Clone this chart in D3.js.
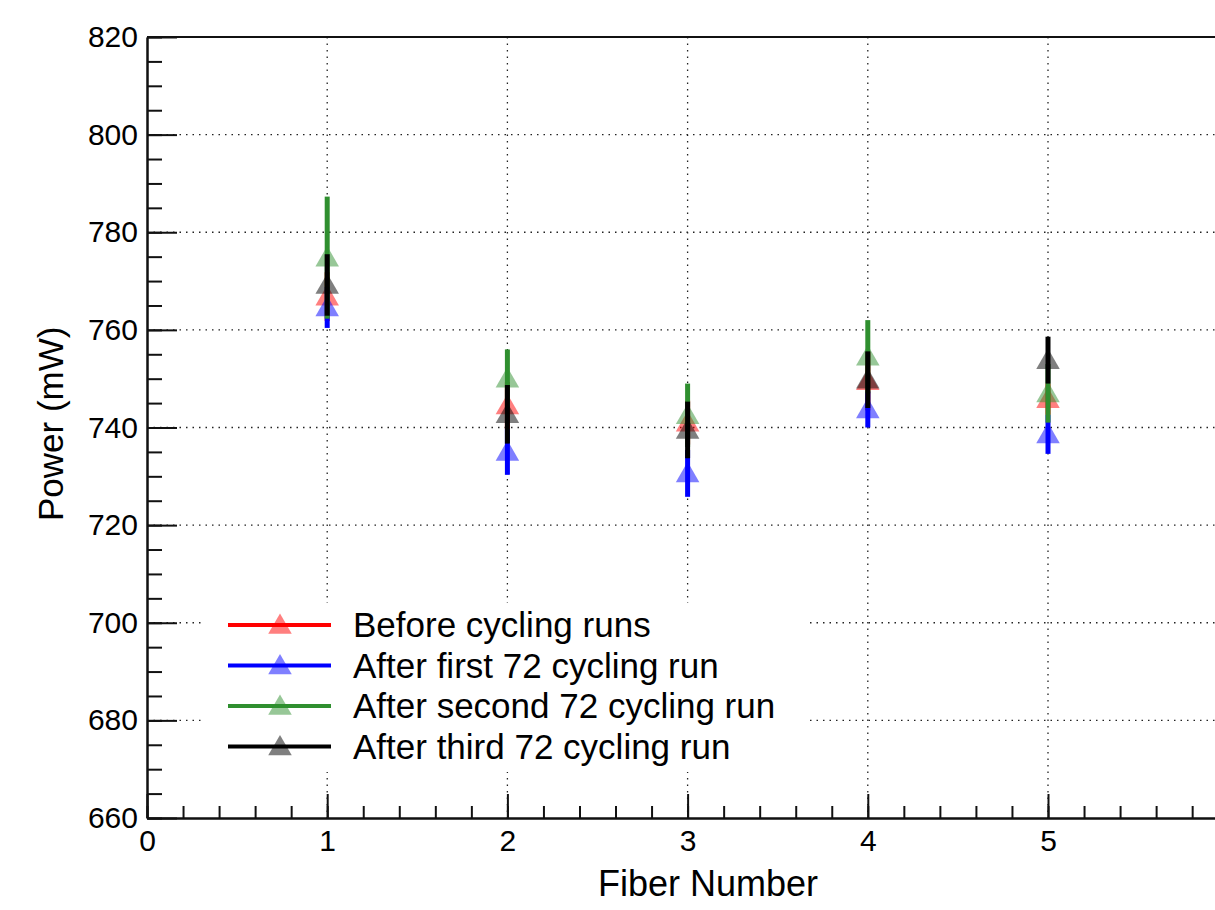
<!DOCTYPE html>
<html>
<head>
<meta charset="utf-8">
<script src="https://cdn.jsdelivr.net/npm/d3@7"></script>
<style>
  body { margin: 0; background: white; }
  text { font-family: "Liberation Sans", Arial, Helvetica, sans-serif; fill: black; }
</style>
</head>
<body>
<svg id="chart"></svg>
<script>
// power of each fiber, four measurement runs
var fibers = [1, 2, 3, 4, 5];

var before    = [766.8, 744.5, 741.0, 749.5, 745.8];
var beforeErr = [5.0, 4.8, 4.5, 6.0, 3.2];
var first     = [764.6, 735.0, 730.6, 743.7, 738.6];
var firstErr  = [4.2, 4.7, 4.8, 3.7, 4.0];
var second    = [774.8, 750.0, 742.5, 754.5, 747.0];
var secondErr = [12.5, 6.0, 6.5, 7.5, 6.0];
var third     = [769.2, 742.7, 739.5, 749.8, 753.8];
var thirdErr  = [6.3, 6.0, 5.8, 5.8, 4.8];

var seriesNames = ["Before cycling runs", "After first 72 cycling run",
                   "After second 72 cycling run", "After third 72 cycling run"];
var lineColors  = ["#ff0000", "#0000ff", "#2f8f2f", "#000000"];
var xTicks = [0, 1, 2, 3, 4, 5];   // 6 falls just past the right edge
var yTicks = [660, 680, 700, 720, 740, 760, 780, 800, 820];

var width = 1215, height = 910;
var padL = 147, padT = 37, padB = 818;

var svg = d3.select("#chart")
    .attr("width", width)
    .attr("height", height);

// scaling (x axis runs past the right edge of the picture)
var x = d3.scaleLinear().domain([0, 6]).range([padL, padL + 6 * 180.2]);
var y = d3.scaleLinear().domain([660, 820]).range([padB, padT]);

// dotted grid at the major ticks
var grid = svg.append("g")
    .attr("stroke", "#222")
    .attr("stroke-width", 1.3)
    .attr("stroke-dasharray", "1.5,5");
grid.selectAll(".gx")
    .data(xTicks.slice(1))
  .enter().append("line")
    .attr("x1", x).attr("x2", x)
    .attr("y1", padT).attr("y2", padB);
grid.selectAll(".gy")
    .data(yTicks.slice(1))
  .enter().append("line")
    .attr("x1", padL).attr("x2", width)
    .attr("y1", y).attr("y2", y);

// axes, ticks pointing into the frame
var minorY = d3.range(660, 821, 5);
var minorX = d3.range(0, 6.01, 0.2);

svg.append("g")
    .attr("transform", "translate(" + padL + ",0)")
    .call(d3.axisLeft(y).tickValues(minorY).tickSize(-15).tickSizeOuter(0).tickFormat(""));
svg.append("g")
    .attr("class", "yaxis")
    .attr("transform", "translate(" + padL + ",0)")
    .call(d3.axisLeft(y).tickValues(yTicks).tickSize(-30).tickSizeOuter(0).tickPadding(9));

svg.append("g")
    .attr("transform", "translate(0," + padB + ")")
    .call(d3.axisBottom(x).tickValues(minorX).tickSize(-12).tickSizeOuter(0).tickFormat(""));
svg.append("g")
    .attr("class", "xaxis")
    .attr("transform", "translate(0," + padB + ")")
    .call(d3.axisBottom(x).tickValues(xTicks).tickSize(-24).tickSizeOuter(0)
          .tickPadding(12).tickFormat(d3.format("d")));

svg.selectAll(".domain, .tick line")
    .attr("stroke", "#111")
    .attr("stroke-width", 2);
svg.selectAll(".yaxis text, .xaxis text")
    .style("font-size", "30px");

// top of the frame
svg.append("line")
    .attr("x1", padL).attr("x2", width)
    .attr("y1", padT).attr("y2", padT)
    .attr("stroke", "#111").attr("stroke-width", 2);

// triangle marker
var tri = d3.symbol().type(d3.symbolTriangle).size(240);

var series = [
  { vals: before, errs: beforeErr },
  { vals: first,  errs: firstErr },
  { vals: second, errs: secondErr },
  { vals: third,  errs: thirdErr }
];

// each series: error bars, then translucent markers on top
series.forEach(function(s, k) {
  var g = svg.append("g");
  g.selectAll("line")
      .data(fibers)
    .enter().append("line")
      .attr("x1", function(d) { return x(d); })
      .attr("x2", function(d) { return x(d); })
      .attr("y1", function(d, i) { return y(s.vals[i] + s.errs[i]); })
      .attr("y2", function(d, i) { return y(s.vals[i] - s.errs[i]); })
      .attr("stroke", lineColors[k])
      .attr("stroke-width", 5);
  g.selectAll("path")
      .data(fibers)
    .enter().append("path")
      .attr("d", tri)
      .attr("transform", function(d, i) {
          return "translate(" + x(d) + "," + (y(s.vals[i]) + 2) + ")"; })
      .attr("fill", lineColors[k])
      .attr("fill-opacity", 0.5);
});

// legend box (white, no border) covers the grid
var legend = svg.append("g");
legend.append("rect")
    .attr("x", 205).attr("y", 603)
    .attr("width", 600).attr("height", 169)
    .attr("fill", "white");

var row = legend.selectAll(".row")
    .data(seriesNames)
  .enter().append("g")
    .attr("transform", function(d, i) { return "translate(0," + (625 + i * 40.5) + ")"; });
row.append("line")
    .attr("x1", 228).attr("x2", 331)
    .attr("stroke", function(d, i) { return lineColors[i]; })
    .attr("stroke-width", 4);
row.append("path")
    .attr("d", tri)
    .attr("transform", "translate(280,2)")
    .attr("fill", function(d, i) { return lineColors[i]; })
    .attr("fill-opacity", 0.5);
row.append("text")
    .attr("x", 353)
    .attr("dy", "0.35em")
    .style("font-size", "35px")
    .text(function(d) { return d; });

// axis titles
svg.append("text")
    .attr("x", 818).attr("y", 896)
    .attr("text-anchor", "end")
    .style("font-size", "36px")
    .text("Fiber Number");
svg.append("text")
    .attr("transform", "translate(63,521) rotate(-90)")
    .style("font-size", "35px")
    .text("Power (mW)");
</script>
</body>
</html>
